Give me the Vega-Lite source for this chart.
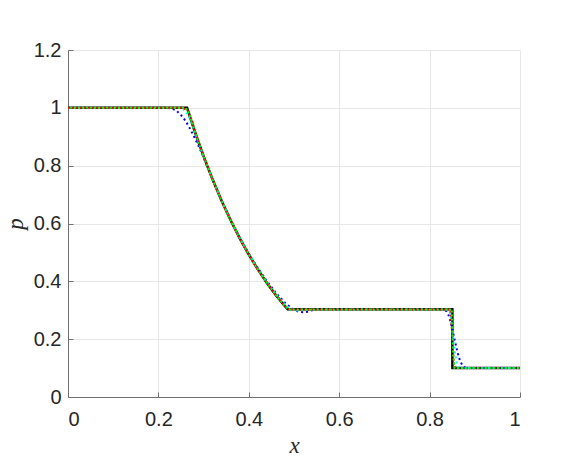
{
  "$schema": "https://vega.github.io/schema/vega-lite/v6.json",
  "width": 452,
  "height": 347,
  "autosize": {"type": "none"},
  "padding": {"left": 68, "top": 50, "right": 48, "bottom": 76},
  "background": "white",
  "config": {
    "view": {"stroke": null},
    "axis": {
      "labelFont": "Liberation Sans",
      "labelFontSize": 20,
      "labelColor": "#262626",
      "titleFont": "Liberation Serif",
      "titleFontStyle": "italic",
      "titleFontWeight": "normal",
      "titleFontSize": 23,
      "titleColor": "#262626",
      "gridColor": "#e6e6e6",
      "gridWidth": 1,
      "domainColor": "#707070",
      "tickColor": "#707070",
      "tickSize": -5,
      "labelPadding": 12
    }
  },
  "data": {
    "values": [
      {"s": "exact", "x": 0, "p": 1},
      {"s": "exact", "x": 0.2634, "p": 1},
      {"s": "exact", "x": 0.27, "p": 0.9677},
      {"s": "exact", "x": 0.28, "p": 0.9208},
      {"s": "exact", "x": 0.29, "p": 0.8758},
      {"s": "exact", "x": 0.30, "p": 0.8328},
      {"s": "exact", "x": 0.31, "p": 0.7915},
      {"s": "exact", "x": 0.32, "p": 0.7521},
      {"s": "exact", "x": 0.34, "p": 0.6781},
      {"s": "exact", "x": 0.36, "p": 0.6105},
      {"s": "exact", "x": 0.38, "p": 0.5488},
      {"s": "exact", "x": 0.40, "p": 0.4924},
      {"s": "exact", "x": 0.42, "p": 0.4412},
      {"s": "exact", "x": 0.44, "p": 0.3945},
      {"s": "exact", "x": 0.46, "p": 0.3522},
      {"s": "exact", "x": 0.48, "p": 0.3138},
      {"s": "exact", "x": 0.486, "p": 0.3031},
      {"s": "exact", "x": 0.8503, "p": 0.3031},
      {"s": "exact", "x": 0.8505, "p": 0.1},
      {"s": "exact", "x": 1, "p": 0.1},

      {"s": "blue", "x": 0, "p": 1},
      {"s": "blue", "x": 0.22, "p": 1},
      {"s": "blue", "x": 0.23, "p": 0.998},
      {"s": "blue", "x": 0.24, "p": 0.99},
      {"s": "blue", "x": 0.25, "p": 0.975},
      {"s": "blue", "x": 0.26, "p": 0.955},
      {"s": "blue", "x": 0.27, "p": 0.928},
      {"s": "blue", "x": 0.28, "p": 0.897},
      {"s": "blue", "x": 0.29, "p": 0.864},
      {"s": "blue", "x": 0.30, "p": 0.828},
      {"s": "blue", "x": 0.32, "p": 0.751},
      {"s": "blue", "x": 0.34, "p": 0.679},
      {"s": "blue", "x": 0.36, "p": 0.612},
      {"s": "blue", "x": 0.38, "p": 0.551},
      {"s": "blue", "x": 0.40, "p": 0.496},
      {"s": "blue", "x": 0.42, "p": 0.446},
      {"s": "blue", "x": 0.44, "p": 0.401},
      {"s": "blue", "x": 0.46, "p": 0.360},
      {"s": "blue", "x": 0.48, "p": 0.326},
      {"s": "blue", "x": 0.49, "p": 0.313},
      {"s": "blue", "x": 0.50, "p": 0.302},
      {"s": "blue", "x": 0.51, "p": 0.295},
      {"s": "blue", "x": 0.52, "p": 0.293},
      {"s": "blue", "x": 0.53, "p": 0.295},
      {"s": "blue", "x": 0.54, "p": 0.300},
      {"s": "blue", "x": 0.55, "p": 0.303},
      {"s": "blue", "x": 0.832, "p": 0.303},
      {"s": "blue", "x": 0.837, "p": 0.297},
      {"s": "blue", "x": 0.842, "p": 0.283},
      {"s": "blue", "x": 0.847, "p": 0.258},
      {"s": "blue", "x": 0.852, "p": 0.222},
      {"s": "blue", "x": 0.857, "p": 0.187},
      {"s": "blue", "x": 0.862, "p": 0.153},
      {"s": "blue", "x": 0.867, "p": 0.127},
      {"s": "blue", "x": 0.872, "p": 0.111},
      {"s": "blue", "x": 0.877, "p": 0.103},
      {"s": "blue", "x": 0.884, "p": 0.1},
      {"s": "blue", "x": 1, "p": 0.1},

      {"s": "cyan", "x": 0, "p": 1},
      {"s": "cyan", "x": 0.245, "p": 1},
      {"s": "cyan", "x": 0.255, "p": 0.995},
      {"s": "cyan", "x": 0.265, "p": 0.977},
      {"s": "cyan", "x": 0.275, "p": 0.943},
      {"s": "cyan", "x": 0.285, "p": 0.898},
      {"s": "cyan", "x": 0.30, "p": 0.832},
      {"s": "cyan", "x": 0.32, "p": 0.752},
      {"s": "cyan", "x": 0.34, "p": 0.679},
      {"s": "cyan", "x": 0.36, "p": 0.611},
      {"s": "cyan", "x": 0.38, "p": 0.550},
      {"s": "cyan", "x": 0.40, "p": 0.494},
      {"s": "cyan", "x": 0.42, "p": 0.443},
      {"s": "cyan", "x": 0.44, "p": 0.397},
      {"s": "cyan", "x": 0.46, "p": 0.355},
      {"s": "cyan", "x": 0.48, "p": 0.319},
      {"s": "cyan", "x": 0.49, "p": 0.307},
      {"s": "cyan", "x": 0.50, "p": 0.300},
      {"s": "cyan", "x": 0.51, "p": 0.299},
      {"s": "cyan", "x": 0.52, "p": 0.303},
      {"s": "cyan", "x": 0.840, "p": 0.303},
      {"s": "cyan", "x": 0.845, "p": 0.292},
      {"s": "cyan", "x": 0.850, "p": 0.240},
      {"s": "cyan", "x": 0.855, "p": 0.165},
      {"s": "cyan", "x": 0.860, "p": 0.117},
      {"s": "cyan", "x": 0.865, "p": 0.103},
      {"s": "cyan", "x": 0.870, "p": 0.1},
      {"s": "cyan", "x": 1, "p": 0.1},

      {"s": "red", "x": 0, "p": 1},
      {"s": "red", "x": 0.255, "p": 1},
      {"s": "red", "x": 0.265, "p": 0.99},
      {"s": "red", "x": 0.275, "p": 0.953},
      {"s": "red", "x": 0.28, "p": 0.922},
      {"s": "red", "x": 0.30, "p": 0.833},
      {"s": "red", "x": 0.32, "p": 0.752},
      {"s": "red", "x": 0.34, "p": 0.678},
      {"s": "red", "x": 0.36, "p": 0.6105},
      {"s": "red", "x": 0.38, "p": 0.549},
      {"s": "red", "x": 0.40, "p": 0.4925},
      {"s": "red", "x": 0.42, "p": 0.441},
      {"s": "red", "x": 0.44, "p": 0.395},
      {"s": "red", "x": 0.46, "p": 0.3525},
      {"s": "red", "x": 0.48, "p": 0.315},
      {"s": "red", "x": 0.49, "p": 0.303},
      {"s": "red", "x": 0.846, "p": 0.303},
      {"s": "red", "x": 0.850, "p": 0.22},
      {"s": "red", "x": 0.854, "p": 0.11},
      {"s": "red", "x": 0.858, "p": 0.1},
      {"s": "red", "x": 1, "p": 0.1},

      {"s": "green", "x": 0, "p": 1},
      {"s": "green", "x": 0.26, "p": 1},
      {"s": "green", "x": 0.268, "p": 0.98},
      {"s": "green", "x": 0.28, "p": 0.921},
      {"s": "green", "x": 0.30, "p": 0.8328},
      {"s": "green", "x": 0.32, "p": 0.7521},
      {"s": "green", "x": 0.34, "p": 0.6781},
      {"s": "green", "x": 0.36, "p": 0.6105},
      {"s": "green", "x": 0.38, "p": 0.5488},
      {"s": "green", "x": 0.40, "p": 0.4924},
      {"s": "green", "x": 0.42, "p": 0.4412},
      {"s": "green", "x": 0.44, "p": 0.3945},
      {"s": "green", "x": 0.46, "p": 0.3522},
      {"s": "green", "x": 0.48, "p": 0.314},
      {"s": "green", "x": 0.488, "p": 0.303},
      {"s": "green", "x": 0.849, "p": 0.303},
      {"s": "green", "x": 0.852, "p": 0.15},
      {"s": "green", "x": 0.855, "p": 0.1},
      {"s": "green", "x": 1, "p": 0.1}
    ]
  },
  "encoding": {
    "x": {
      "field": "x", "type": "quantitative",
      "scale": {"domain": [0, 1], "nice": false, "zero": false},
      "axis": {"values": [0, 0.2, 0.4, 0.6, 0.8, 1], "format": "~g", "title": "x", "titlePadding": 5, "labelPadding": 17}
    },
    "y": {
      "field": "p", "type": "quantitative",
      "scale": {"domain": [0, 1.2], "nice": false},
      "axis": {"values": [0, 0.2, 0.4, 0.6, 0.8, 1, 1.2], "format": "~g", "title": "p", "titlePadding": 6, "labelPadding": 12}
    }
  },
  "layer": [
    {"transform": [{"filter": "datum.s === 'exact'"}], "mark": {"type": "line", "color": "black", "strokeWidth": 2.5, "clip": true}},
    {"transform": [{"filter": "datum.s === 'blue'"}], "mark": {"type": "line", "color": "#0000ff", "strokeWidth": 2, "strokeDash": [2, 3], "clip": true}},
    {"transform": [{"filter": "datum.s === 'cyan'"}], "mark": {"type": "line", "color": "#00ffff", "strokeWidth": 2, "strokeDash": [2, 3], "clip": true}},
    {"transform": [{"filter": "datum.s === 'red'"}], "mark": {"type": "line", "color": "#ff0000", "strokeWidth": 2, "strokeDash": [2, 2], "clip": true}},
    {"transform": [{"filter": "datum.s === 'green'"}], "mark": {"type": "line", "color": "#00ff00", "strokeWidth": 2, "strokeDash": [2, 2], "strokeDashOffset": 2, "clip": true}}
  ]
}
